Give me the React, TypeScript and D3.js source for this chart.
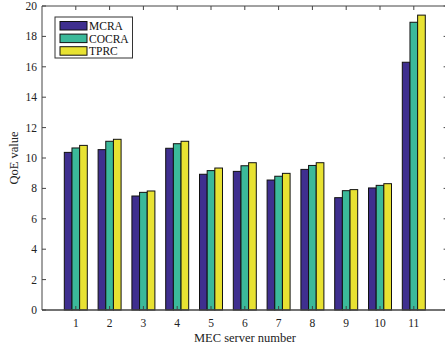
import React from "react";
import * as d3 from "d3";

const categories = ["1", "2", "3", "4", "5", "6", "7", "8", "9", "10", "11"];
const seriesNames = ["MCRA", "COCRA", "TPRC"];
const mcra = [10.37, 10.55, 7.5, 10.64, 8.93, 9.12, 8.55, 9.25, 7.39, 8.03, 16.3];
const cocra = [10.66, 11.1, 7.74, 10.94, 9.17, 9.49, 8.8, 9.51, 7.85, 8.2, 18.93];
const tprc = [10.83, 11.23, 7.83, 11.1, 9.34, 9.69, 8.99, 9.69, 7.92, 8.31, 19.4];
const yTicks = [0, 2, 4, 6, 8, 10, 12, 14, 16, 18, 20];
const colors = ["#3f2f8f", "#3bb99a", "#e8e232"];

const W = 445;
const H = 349;
const left = 42;
const top = 6;
const bottom = 310;
const right = 447.6;
const font = "'Liberation Serif', 'Times New Roman', serif";

export default function App() {
  const series = [mcra, cocra, tprc];
  const x = d3.scaleLinear().domain([0, 12]).range([left, right]);
  const y = d3.scaleLinear().domain([0, 20]).range([bottom, top]);
  const step = x(1) - x(0);
  const barW = (step * 0.68) / 3;
  const axisColor = "#444";

  return (
    <svg
      width={W}
      height={H}
      style={{ position: "absolute", left: 0, top: 0, background: "#fff" }}
    >
      {/* bars */}
      {categories.map((c, i) => {
        const cx = x(i + 1);
        return (
          <g key={c}>
            {series.map((s, j) => {
              const bx = cx - 1.5 * barW + j * barW;
              return (
                <rect
                  key={j}
                  x={bx}
                  y={y(s[i])}
                  width={barW}
                  height={y(0) - y(s[i])}
                  fill={colors[j]}
                  stroke="#111"
                  strokeWidth={1}
                />
              );
            })}
          </g>
        );
      })}

      {/* axes box */}
      <line x1={left} x2={right} y1={top} y2={top} stroke={axisColor} strokeWidth={1} />
      <line x1={left} x2={left} y1={top} y2={bottom} stroke={axisColor} strokeWidth={1} />
      <line x1={right} x2={right} y1={top} y2={bottom} stroke={axisColor} strokeWidth={1} />
      <line x1={left} x2={right} y1={bottom} y2={bottom} stroke={axisColor} strokeWidth={1.5} />

      {/* y ticks */}
      {yTicks.map((t) => (
        <g key={t}>
          <line x1={left} x2={left + 4} y1={y(t)} y2={y(t)} stroke={axisColor} />
          <line x1={right - 4} x2={right} y1={y(t)} y2={y(t)} stroke={axisColor} />
          <text
            x={left - 5}
            y={y(t)}
            dy="0.35em"
            textAnchor="end"
            fontFamily={font}
            fontSize={11.5}
            fill="#222"
          >
            {t}
          </text>
        </g>
      ))}

      {/* x ticks */}
      {categories.map((c, i) => (
        <g key={c}>
          <line x1={x(i + 1)} x2={x(i + 1)} y1={top} y2={top + 4} stroke={axisColor} />
          <line x1={x(i + 1)} x2={x(i + 1)} y1={bottom} y2={bottom - 4} stroke={axisColor} />
          <text
            x={x(i + 1)}
            y={bottom + 17}
            textAnchor="middle"
            fontFamily={font}
            fontSize={11.5}
            fill="#222"
          >
            {c}
          </text>
        </g>
      ))}

      {/* axis labels */}
      <text
        x={245}
        y={342}
        textAnchor="middle"
        fontFamily={font}
        fontSize={12.5}
        fill="#222"
      >
        MEC server number
      </text>
      <text
        transform={`translate(18, ${(top + bottom) / 2}) rotate(-90)`}
        textAnchor="middle"
        fontFamily={font}
        fontSize={12.5}
        fill="#222"
      >
        QoE value
      </text>

      {/* legend */}
      <rect x={55} y={17} width={77.5} height={41} fill="#fff" stroke="#333" strokeWidth={1} />
      {seriesNames.map((n, j) => (
        <g key={n}>
          <rect
            x={60}
            y={21.5 + j * 12.6}
            width={27}
            height={8.5}
            fill={colors[j]}
            stroke="#111"
            strokeWidth={1}
          />
          <text
            x={89}
            y={26 + j * 12.6}
            dy="0.35em"
            fontFamily={font}
            fontSize={11.5}
            fill="#111"
          >
            {n}
          </text>
        </g>
      ))}
    </svg>
  );
}
